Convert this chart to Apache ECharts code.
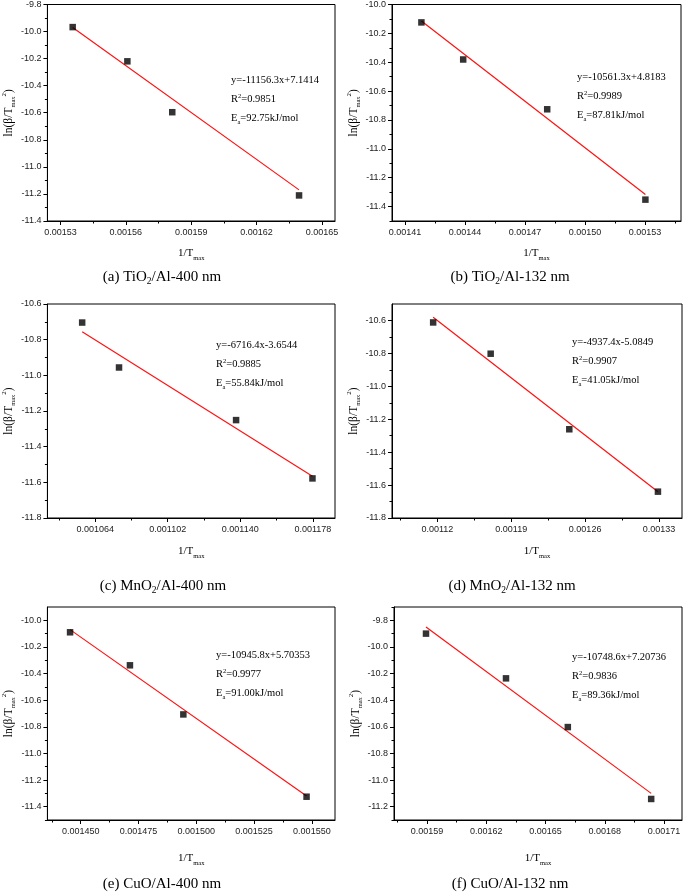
<!DOCTYPE html>
<html><head><meta charset="utf-8">
<script src="https://cdn.jsdelivr.net/npm/echarts@6/dist/echarts.min.js"></script>
<style>html,body{margin:0;padding:0;background:#fff}#c{width:685px;height:894px}</style>
</head><body><div id="c"></div>
<script>
// ---------- data ----------
// (a) TiO2/Al-400 nm
const xA = [0.0015356, 0.0015607, 0.0015813, 0.0016395];
const yA = [-9.967, -10.220, -10.596, -11.211];
const fitXA = [0.0015356, 0.0016395];
const fitYA = [-9.97, -11.17];
const xTicksA = ['0.00153', '0.00156', '0.00159', '0.00162', '0.00165'];
const yTicksA = ['-11.4', '-11.2', '-11.0', '-10.8', '-10.6', '-10.4', '-10.2', '-10.0', '-9.8'];
// (b) TiO2/Al-132 nm
const xB = [0.0014182, 0.0014391, 0.0014811, 0.0015302];
const yB = [-10.124, -10.381, -10.726, -11.352];
const fitXB = [0.0014182, 0.0015302];
const fitYB = [-10.115, -11.317];
const xTicksB = ['0.00141', '0.00144', '0.00147', '0.00150', '0.00153'];
const yTicksB = ['-11.4', '-11.2', '-11.0', '-10.8', '-10.6', '-10.4', '-10.2', '-10.0'];
// (c) MnO2/Al-400 nm
const xC = [0.0010572, 0.0010765, 0.0011378, 0.0011778];
const yC = [-10.704, -10.956, -11.251, -11.578];
const fitXC = [0.0010572, 0.0011778];
const fitYC = [-10.755, -11.566];
const xTicksC = ['0.001064', '0.001102', '0.001140', '0.001178'];
const yTicksC = ['-11.8', '-11.6', '-11.4', '-11.2', '-11.0', '-10.8', '-10.6'];
// (d) MnO2/Al-132 nm
const xD = [0.001116, 0.0011705, 0.001245, 0.001329];
const yD = [-10.612, -10.802, -11.261, -11.640];
const fitXD = [0.001116, 0.001329];
const fitYD = [-10.58, -11.64];
const xTicksD = ['0.00112', '0.00119', '0.00126', '0.00133'];
const yTicksD = ['-11.8', '-11.6', '-11.4', '-11.2', '-11.0', '-10.8', '-10.6'];
// (e) CuO/Al-400 nm
const xE = [0.0014454, 0.0014713, 0.0014944, 0.0015477];
const yE = [-10.090, -10.338, -10.707, -11.325];
const fitXE = [0.0014454, 0.0015477];
const fitYE = [-10.07, -11.32];
const xTicksE = ['0.001450', '0.001475', '0.001500', '0.001525', '0.001550'];
const yTicksE = ['-11.4', '-11.2', '-11.0', '-10.8', '-10.6', '-10.4', '-10.2', '-10.0'];
// (f) CuO/Al-132 nm
const xF = [0.0015895, 0.0016300, 0.0016613, 0.0017035];
const yF = [-9.900, -10.236, -10.602, -11.142];
const fitXF = [0.0015895, 0.0017035];
const fitYF = [-9.85, -11.10];
const xTicksF = ['0.00159', '0.00162', '0.00165', '0.00168', '0.00171'];
const yTicksF = ['-11.2', '-11.0', '-10.8', '-10.6', '-10.4', '-10.2', '-10.0', '-9.8'];

const captions = ['(a) TiO{s|2}/Al-400 nm', '(b) TiO{s|2}/Al-132 nm', '(c) MnO{s|2}/Al-400 nm',
                  '(d) MnO{s|2}/Al-132 nm', '(e) CuO/Al-400 nm', '(f) CuO/Al-132 nm'];
const equations = ['y=-11156.3x+7.1414', 'y=-10561.3x+4.8183', 'y=-6716.4x-3.6544',
                   'y=-4937.4x-5.0849', 'y=-10945.8x+5.70353', 'y=-10748.6x+7.20736'];
const rSquared = ['0.9851', '0.9989', '0.9885', '0.9907', '0.9977', '0.9836'];
const activation = ['92.75', '87.81', '55.84', '41.05', '91.00', '89.36'];

// ---------- layout ----------
const panels = [
  {grid:{left:46, top:4, width:289, height:217}, xr:[0.001524, 0.001656], yr:[-11.4, -9.8],
   x:xA, y:yA, fx:fitXA, fy:fitYA, xt:xTicksA, yt:yTicksA, ann:[231, 80], cap:[162, 277], ng:27},
  {grid:{left:392, top:4, width:289, height:217}, xr:[0.0014035, 0.001548], yr:[-11.5, -10.0],
   x:xB, y:yB, fx:fitXB, fy:fitYB, xt:xTicksB, yt:yTicksB, ann:[577, 77], cap:[510, 277], ng:27},
  {grid:{left:46, top:304, width:289, height:214}, xr:[0.001039, 0.0011896], yr:[-11.8, -10.6],
   x:xC, y:yC, fx:fitXC, fy:fitYC, xt:xTicksC, yt:yTicksC, ann:[216, 345], cap:[163, 586], ng:28},
  {grid:{left:392, top:304, width:290, height:214}, xr:[0.001077, 0.0013518], yr:[-11.8, -10.5],
   x:xD, y:yD, fx:fitXD, fy:fitYD, xt:xTicksD, yt:yTicksD, ann:[572, 342], cap:[512, 586], ng:28},
  {grid:{left:47, top:607, width:288, height:213}, xr:[0.0014356, 0.00156], yr:[-11.5, -9.9],
   x:xE, y:yE, fx:fitXE, fy:fitYE, xt:xTicksE, yt:yTicksE, ann:[216, 655], cap:[162, 884], ng:33},
  {grid:{left:394, top:607, width:288, height:213}, xr:[0.0015733, 0.0017191], yr:[-11.3, -9.7],
   x:xF, y:yF, fx:fitXF, fy:fitYF, xt:xTicksF, yt:yTicksF, ann:[572, 657], cap:[510, 884], ng:33}
];

const SANS = 'Liberation Sans, Arial, sans-serif';
const SERIF = 'Liberation Serif, Times New Roman, serif';

function minorTicks(major, lo, hi) {
  const step = major[1] - major[0];
  const out = [];
  for (let k = -1; k < major.length; k++) {
    const v = major[0] + (k + 0.5) * step;
    if (v >= lo - step * 1e-3 && v <= hi + step * 1e-3) out.push(v);
  }
  return out;
}
function labelFmt(labels, tol) {
  return function (v) {
    for (const l of labels) if (Math.abs(Number(l) - v) < tol) return l;
    return '';
  };
}

const option = {animation:false, backgroundColor:'#fff', grid:[], xAxis:[], yAxis:[], series:[], graphic:[]};
const axisLineStyle = {color:'#000', width:1};

panels.forEach(function (p, i) {
  option.grid.push(Object.assign({show:true, borderColor:'#000', borderWidth:1, backgroundColor:'transparent'}, p.grid));
  const xMajor = p.xt.map(Number), yMajor = p.yt.map(Number);
  const xMinor = minorTicks(xMajor, p.xr[0], p.xr[1]);
  const yMinor = minorTicks(yMajor, p.yr[0], p.yr[1]);

  option.xAxis.push({
    type:'value', gridIndex:i, min:p.xr[0], max:p.xr[1], position:'bottom',
    axisLine:{show:true, onZero:false, lineStyle:axisLineStyle},
    axisTick:{show:true, inside:false, length:4, customValues:xMajor, lineStyle:axisLineStyle},
    axisLabel:{show:true, customValues:xMajor, formatter:labelFmt(p.xt, 1e-9), margin:7,
               fontSize:9, color:'#222', fontFamily:SANS},
    splitLine:{show:false},
    name:'{a|1/T}{s|max}', nameLocation:'middle', nameGap:p.ng,
    nameTextStyle:{color:'#000', rich:{
      a:{fontFamily:SERIF, fontSize:11, color:'#000', lineHeight:14, verticalAlign:'top'},
      s:{fontFamily:SERIF, fontSize:6.5, color:'#000', lineHeight:14, verticalAlign:'bottom'}}}
  });
  option.xAxis.push({
    type:'value', gridIndex:i, min:p.xr[0], max:p.xr[1], position:'bottom',
    axisLine:{show:false, onZero:false},
    axisTick:{show:true, inside:false, length:2.5, customValues:xMinor, lineStyle:axisLineStyle},
    axisLabel:{show:false}, splitLine:{show:false}
  });
  option.yAxis.push({
    type:'value', gridIndex:i, min:p.yr[0], max:p.yr[1], position:'left',
    axisLine:{show:true, onZero:false, lineStyle:axisLineStyle},
    axisTick:{show:true, inside:false, length:4, customValues:yMajor, lineStyle:axisLineStyle},
    axisLabel:{show:true, customValues:yMajor, formatter:labelFmt(p.yt, 1e-6), margin:6,
               fontSize:9, color:'#222', fontFamily:SANS},
    splitLine:{show:false},
    name:'{a|ln(β/T}{s|max}{p|2}{a|)}', nameLocation:'middle', nameGap:30, nameRotate:90,
    nameTextStyle:{color:'#000', rich:{
      a:{fontFamily:SERIF, fontSize:11.5, color:'#000', lineHeight:16},
      s:{fontFamily:SERIF, fontSize:6.5, color:'#000', lineHeight:16, verticalAlign:'bottom'},
      p:{fontFamily:SERIF, fontSize:7, color:'#000', lineHeight:16, verticalAlign:'top'}}}
  });
  option.yAxis.push({
    type:'value', gridIndex:i, min:p.yr[0], max:p.yr[1], position:'left',
    axisLine:{show:false, onZero:false},
    axisTick:{show:true, inside:false, length:2.5, customValues:yMinor, lineStyle:axisLineStyle},
    axisLabel:{show:false}, splitLine:{show:false}
  });

  option.series.push({
    type:'line', xAxisIndex:2 * i, yAxisIndex:2 * i, symbol:'none', silent:true, z:2,
    data:p.fx.map(function (x, k) { return [x, p.fy[k]]; }),
    lineStyle:{color:'#ff1010', width:1.2}
  });
  option.series.push({
    type:'scatter', xAxisIndex:2 * i, yAxisIndex:2 * i, symbol:'rect', symbolSize:6.5, z:3,
    data:p.x.map(function (x, k) { return [x, p.y[k]]; }),
    itemStyle:{color:'#000'}
  });

  const annRich = {
    t:{fontFamily:SERIF, fontSize:10.5, fill:'#000', lineHeight:14},
    sup:{fontFamily:SERIF, fontSize:6.5, fill:'#000', lineHeight:14, verticalAlign:'top'},
    sub:{fontFamily:SERIF, fontSize:6.5, fill:'#000', lineHeight:14, verticalAlign:'bottom'}
  };
  const lines = ['{t|' + equations[i] + '}', '{t|R}{sup|2}{t|=' + rSquared[i] + '}',
                 '{t|E}{sub|a}{t|=' + activation[i] + 'kJ/mol}'];
  lines.forEach(function (txt, k) {
    option.graphic.push({type:'text', x:p.ann[0], y:p.ann[1] + k * 19.3, z:10,
      style:{text:txt, fontFamily:SERIF, fontSize:10.5, fill:'#000', verticalAlign:'middle', rich:annRich}});
  });
  option.graphic.push({type:'text', x:p.cap[0], y:p.cap[1], z:10,
    style:{text:'{c|' + captions[i].replace('{s|2}', '}{s|2}{c|') + '}', align:'center', verticalAlign:'middle',
      fontFamily:SERIF, fontSize:15, fill:'#000',
      rich:{c:{fontFamily:SERIF, fontSize:15, fill:'#000', lineHeight:19},
            s:{fontFamily:SERIF, fontSize:9.5, fill:'#000', lineHeight:19, verticalAlign:'bottom'}}}});
});

const chart = echarts.init(document.getElementById('c'), null, {renderer:'canvas'});
chart.setOption(option);
</script>
</body></html>
